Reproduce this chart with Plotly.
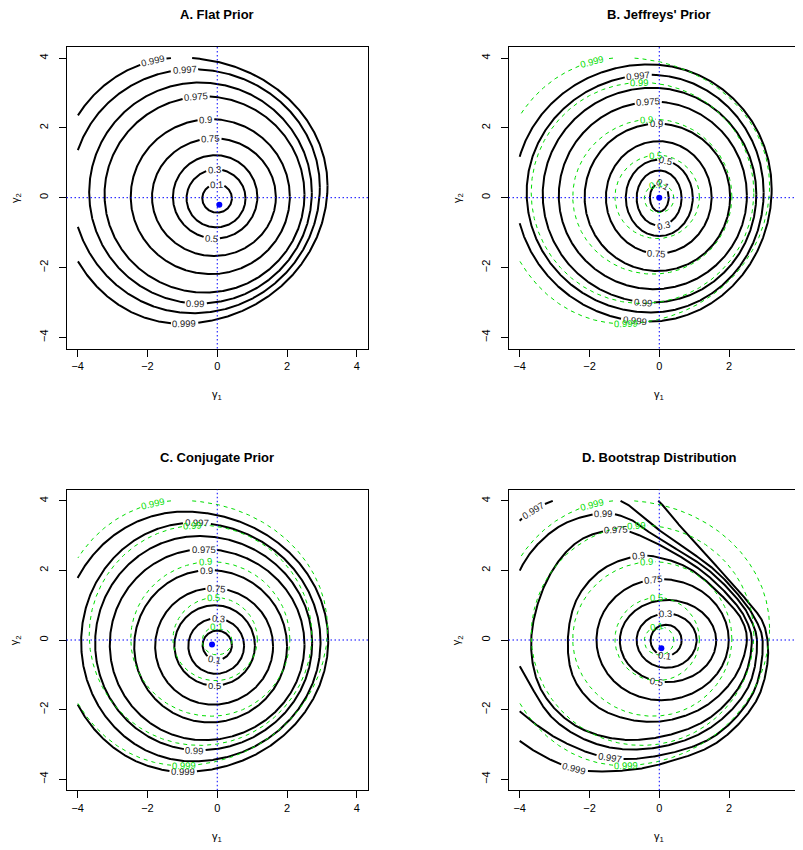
import numpy as np
import plotly.graph_objects as go

# ---------------- data ----------------
LEVELS = [0.1, 0.3, 0.5, 0.75, 0.9, 0.975, 0.99, 0.997, 0.999]
GREEN_LEVELS = [0.1, 0.5, 0.9, 0.99, 0.999]   # flat-prior contours overlaid in B, C, D
TICKS = [-4, -2, 0, 2, 4]
TITLES = ["A. Flat Prior", "B. Jeffreys' Prior", "C. Conjugate Prior", "D. Bootstrap Distribution"]

# Contours as centre (cx, cy) + extreme coordinates (left/right/bottom/top)
# Panel A - flat prior
A_CX = [0.00, -0.03, -0.05, -0.09, -0.18, -0.35, -0.50, -0.70, -1.05]
A_CY = [-0.02, -0.02, 0.02, 0.02, 0.03, 0.09, 0.15, 0.30, 0.35]
A_LEFT = [-0.43, -0.88, -1.27, -1.87, -2.48, -3.23, -3.67, -4.17, -4.57]
A_RIGHT = [0.42, 0.81, 1.15, 1.68, 2.08, 2.50, 2.71, 2.94, 3.16]
A_BOTTOM = [-0.43, -0.85, -1.17, -1.67, -2.19, -2.72, -3.03, -3.31, -3.61]
A_TOP = [0.39, 0.81, 1.22, 1.70, 2.25, 2.90, 3.30, 3.68, 4.01]
A_DOT = (0.06, -0.20)
A_LAB_LEVEL = [0.999, 0.997, 0.975, 0.9, 0.75, 0.3, 0.1, 0.5, 0.99, 0.999]
A_LAB_X = [-1.83, -0.93, -0.61, -0.33, -0.19, -0.09, -0.02, -0.16, -0.61, -0.93]
A_LAB_Y = [3.86, 3.65, 2.89, 2.25, 1.70, 0.81, 0.38, -1.15, -3.02, -3.60]

# Panel B - Jeffreys' prior
B_CX = [0.00, 0.00, 0.00, -0.02, -0.05, -0.15, -0.20, -0.25, -0.30]
B_CY = [0.00, -0.01, 0.00, 0.01, 0.02, 0.06, 0.10, 0.15, 0.25]
B_LEFT = [-0.27, -0.65, -0.96, -1.53, -2.14, -2.88, -3.34, -3.80, -4.13]
B_RIGHT = [0.27, 0.64, 0.96, 1.50, 2.03, 2.51, 2.78, 2.99, 3.22]
B_BOTTOM = [-0.40, -0.80, -1.10, -1.60, -2.10, -2.62, -3.00, -3.29, -3.55]
B_TOP = [0.40, 0.78, 1.09, 1.62, 2.12, 2.75, 3.15, 3.52, 3.82]
B_DOT = (0.00, 0.00)
B_LAB_LEVEL = [0.997, 0.975, 0.9, 0.5, 0.1, 0.3, 0.75, 0.99, 0.999]
B_LAB_X = [-0.60, -0.32, -0.08, 0.18, 0.10, 0.12, -0.08, -0.46, -0.70]
B_LAB_Y = [3.52, 2.76, 2.12, 1.10, 0.36, -0.81, -1.62, -3.00, -3.55]
B_GLAB_LEVEL = [0.999, 0.99, 0.9, 0.5, 0.1, 0.999]
B_GLAB_X = [-1.92, -0.56, -0.36, -0.10, -0.12, -0.94]
B_GLAB_Y = [3.88, 3.29, 2.27, 1.21, 0.43, -3.57]

# Panel C - conjugate prior
C_CX = [0.00, -0.04, -0.07, -0.12, -0.22, -0.38, -0.52, -0.70, -0.95]
C_CY = [-0.15, -0.17, -0.16, -0.18, -0.18, -0.13, -0.09, -0.06, -0.02]
C_LEFT = [-0.42, -0.83, -1.23, -1.78, -2.38, -3.08, -3.50, -3.90, -4.44]
C_RIGHT = [0.42, 0.77, 1.08, 1.60, 2.00, 2.50, 2.72, 2.96, 3.18]
C_BOTTOM = [-0.57, -0.97, -1.31, -1.86, -2.37, -2.88, -3.17, -3.49, -3.79]
C_TOP = [0.27, 0.62, 1.00, 1.49, 2.01, 2.61, 2.99, 3.37, 3.69]
C_DOT = (-0.15, -0.13)
C_LAB_LEVEL = [0.997, 0.975, 0.9, 0.75, 0.3, 0.1, 0.5, 0.99, 0.999]
C_LAB_X = [-0.59, -0.40, -0.31, -0.02, 0.03, -0.07, -0.07, -0.64, -0.98]
C_LAB_Y = [3.36, 2.60, 2.00, 1.48, 0.60, -0.55, -1.30, -3.16, -3.79]
C_GLAB_LEVEL = [0.999, 0.99, 0.9, 0.5, 0.1, 0.999]
C_GLAB_X = [-1.83, -0.69, -0.35, -0.10, -0.02, -0.93]
C_GLAB_Y = [3.88, 3.26, 2.27, 1.17, 0.38, -3.60]

# Panel D - bootstrap distribution
# inner contours (0.1, 0.3, 0.5, 0.75): centre + extremes
D_IN_CX = [0.19, 0.21, 0.22, 0.05]
D_IN_CY = [-0.01, 0.00, -0.02, 0.00]
D_IN_LEFT = [-0.25, -0.65, -1.13, -1.80]
D_IN_RIGHT = [0.64, 1.07, 1.63, 1.99]
D_IN_BOTTOM = [-0.46, -0.80, -1.21, -1.73]
D_IN_TOP = [0.44, 0.76, 1.15, 1.75]
# outer contours (0.9 ... 0.999): points (counter-clockwise)
D_X_0900 = [2.51, 2.38, 2.05, 0.95, 0.20, -0.55, -1.60, -2.35, -2.62, -2.45, -1.80, -0.80, 0.30, 1.40, 2.20]
D_Y_0900 = [0.00, 0.55, 1.00, 2.00, 2.32, 2.42, 2.05, 1.20, 0.00, -1.10, -1.90, -2.30, -2.30, -1.85, -1.00]
D_X_0975 = [2.65, 2.50, 2.22, 1.20, -0.55, -1.20, -2.30, -3.20, -3.67, -3.40, -2.50, -1.20, 0.20, 1.50, 2.40]
D_Y_0975 = [0.00, 0.55, 1.00, 2.00, 3.00, 3.17, 2.85, 1.75, 0.00, -1.40, -2.40, -2.85, -2.75, -2.20, -1.15]
D_X_0990 = [2.80, 2.64, 2.38, 1.42, -0.15, -0.80, -1.55, -2.80, -3.80, -4.30, -4.25, -3.85, -3.00, -1.60, 0.00, 1.50, 2.55]
D_Y_0990 = [0.00, 0.55, 1.00, 2.00, 3.00, 3.45, 3.64, 3.30, 2.35, 1.00, -0.20, -1.00, -2.30, -3.05, -3.08, -2.50, -1.35]
D_X_0997 = [2.96, 2.78, 2.50, 1.60, 0.20, -1.11, -2.10, -3.10, -4.00, -4.70, -5.00, -4.70, -4.00, -2.80, -1.42, 0.00, 1.60, 2.70]
D_Y_0997 = [0.00, 0.55, 1.00, 2.00, 3.00, 4.00, 4.15, 3.98, 3.43, 2.20, 0.50, -1.30, -2.05, -2.90, -3.39, -3.32, -2.75, -1.50]
D_X_0999 = [3.10, 2.95, 2.62, 1.75, 0.82, -0.03, -1.00, -2.60, -4.30, -5.30, -5.50, -5.00, -4.00, -2.43, -1.00, 0.10, 1.65, 2.75, 3.08]
D_Y_0999 = [0.00, 0.55, 1.00, 2.00, 3.00, 4.00, 4.70, 5.00, 4.40, 2.50, 0.00, -1.80, -2.90, -3.70, -3.75, -3.55, -2.95, -1.80, -0.80]
D_DOT = (0.06, -0.24)
D_LAB_LEVEL = [0.997, 0.99, 0.975, 0.9, 0.75, 0.3, 0.1, 0.5, 0.997, 0.999]
D_LAB_X = [-3.58, -1.59, -1.23, -0.58, -0.17, 0.18, 0.14, -0.08, -1.42, -2.43]
D_LAB_Y = [3.67, 3.59, 3.14, 2.40, 1.73, 0.74, -0.45, -1.21, -3.39, -3.70]
D_GLAB_LEVEL = [0.999, 0.99, 0.9, 0.5, 0.1, 0.999]
D_GLAB_X = [-1.92, -0.65, -0.36, -0.08, -0.08, -0.94]
D_GLAB_Y = [3.90, 3.26, 2.27, 1.17, 0.38, -3.60]

# ---------------- styling / layout ----------------
PAGE_W, PAGE_H = 803, 850
OFF = 8                      # default page margin around the figure div
W, H = PAGE_W - OFF, PAGE_H - OFF
FONT = "Liberation Sans, Arial, Helvetica, sans-serif"
PX = 34.9              # approx. pixels per data unit (used only for label gaps)
GRID_LIM = 4.0         # contours were computed on [-4, 4] x [-4, 4]
LAB_FS = 9.5
GREEN = "#00dd00"
DOTTED = "1.5px,2.5px"


def px_x(p):
    return (p - OFF) / W


def px_y(p):
    return 1 - (p - OFF) / H


XD_L = [px_x(66.5), px_x(368.0)]
XD_R = [px_x(508.5), 1.0]
XR_L = [-4.32, 4.32]
XR_R = [-4.32, (PAGE_W - 659.3) / PX]
YD_T = [px_y(348.5), px_y(46.9)]
YD_B = [px_y(790.3), px_y(489.7)]
YR = [-4.32, 4.32]


def quad_curve(cx, cy, left, right, bottom, top, n=300):
    t = np.linspace(0, np.pi / 2, n, endpoint=False)
    c, s = np.cos(t), np.sin(t)
    xs = [cx + (right - cx) * c, cx - (cx - left) * s, cx - (cx - left) * c, cx + (right - cx) * s]
    ys = [cy + (top - cy) * s, cy + (top - cy) * c, cy - (cy - bottom) * s, cy - (cy - bottom) * c]
    x = np.concatenate(xs + [[xs[0][0]]])
    y = np.concatenate(ys + [[ys[0][0]]])
    return x, y


def spline_closed(px, py, n_per=60, alpha=0.5):
    """Centripetal Catmull-Rom curve through the traced points (closed)."""
    P = np.column_stack([px, py]).astype(float)
    m = len(P)
    out = []
    for i in range(m):
        p0, p1, p2, p3 = P[i - 1], P[i], P[(i + 1) % m], P[(i + 2) % m]
        t0 = 0.0
        t1 = t0 + np.linalg.norm(p1 - p0) ** alpha
        t2 = t1 + np.linalg.norm(p2 - p1) ** alpha
        t3 = t2 + np.linalg.norm(p3 - p2) ** alpha
        t = np.linspace(t1, t2, n_per, endpoint=False)[:, None]
        a1 = (t1 - t) / (t1 - t0) * p0 + (t - t0) / (t1 - t0) * p1
        a2 = (t2 - t) / (t2 - t1) * p1 + (t - t1) / (t2 - t1) * p2
        a3 = (t3 - t) / (t3 - t2) * p2 + (t - t2) / (t3 - t2) * p3
        b1 = (t2 - t) / (t2 - t0) * a1 + (t - t0) / (t2 - t0) * a2
        b2 = (t3 - t) / (t3 - t1) * a2 + (t - t1) / (t3 - t1) * a3
        out.append((t2 - t) / (t2 - t1) * b1 + (t - t1) / (t2 - t1) * b2)
    C = np.vstack(out + [P[:1]])
    return C[:, 0], C[:, 1]


def label_width(text, fs):
    return sum(0.278 if ch == "." else 0.556 for ch in text) * fs


def panel_curves(cx, cy, left, right, bottom, top, levels):
    return {lev: quad_curve(cx[k], cy[k], left[k], right[k], bottom[k], top[k])
            for k, lev in enumerate(levels)}


def label_and_gap(curves, levels, lab_lev, lab_x, lab_y):
    keep = {lev: np.ones(len(curves[lev][0]), bool) for lev in levels}
    anns = []
    for lev, lx, ly in zip(lab_lev, lab_x, lab_y):
        x, y = curves[lev]
        vis = (np.abs(x) <= GRID_LIM) & (np.abs(y) <= GRID_LIM)
        d = np.hypot(x - lx, y - ly)
        d[~vis] = np.inf
        i = int(np.argmin(d))
        seg = np.hypot(np.diff(x), np.diff(y)) * PX
        s = np.concatenate([[0.0], np.cumsum(seg)])
        tot = s[-1]
        ds = np.abs(s - s[i])
        ds = np.minimum(ds, tot - ds)
        text = f"{lev:g}"
        half = label_width(text, LAB_FS) / 2 + 1.5
        keep[lev] &= ds > half
        m = len(x) - 1
        j0, j1 = (i - 4) % m, (i + 4) % m
        ang = np.degrees(np.arctan2(y[j1] - y[j0], x[j1] - x[j0]))
        if ang > 90:
            ang -= 180
        if ang <= -90:
            ang += 180
        anns.append((float(x[i]), float(y[i]), text, float(ang)))
    return keep, anns


def lines_trace(curves, levels, keep, xa, ya, color, width, dash):
    xx, yy = [], []
    for lev in levels:
        x, y = curves[lev]
        vis = (np.abs(x) <= GRID_LIM) & (np.abs(y) <= GRID_LIM) & keep[lev]
        xx.append(np.where(vis, x, np.nan)); yy.append(np.where(vis, y, np.nan))
        xx.append([np.nan]); yy.append([np.nan])
    return go.Scatter(x=np.concatenate(xx), y=np.concatenate(yy), mode="lines",
                      line=dict(color=color, width=width, dash=dash),
                      xaxis=xa, yaxis=ya, hoverinfo="skip", showlegend=False,
                      connectgaps=False)


curvesA = panel_curves(A_CX, A_CY, A_LEFT, A_RIGHT, A_BOTTOM, A_TOP, LEVELS)
curvesB = panel_curves(B_CX, B_CY, B_LEFT, B_RIGHT, B_BOTTOM, B_TOP, LEVELS)
curvesC = panel_curves(C_CX, C_CY, C_LEFT, C_RIGHT, C_BOTTOM, C_TOP, LEVELS)
curvesD = panel_curves(D_IN_CX, D_IN_CY, D_IN_LEFT, D_IN_RIGHT, D_IN_BOTTOM, D_IN_TOP, LEVELS[:4])
curvesD[0.9] = spline_closed(D_X_0900, D_Y_0900)
curvesD[0.975] = spline_closed(D_X_0975, D_Y_0975)
curvesD[0.99] = spline_closed(D_X_0990, D_Y_0990)
curvesD[0.997] = spline_closed(D_X_0997, D_Y_0997)
curvesD[0.999] = spline_closed(D_X_0999, D_Y_0999)

panels = [
    dict(curves=curvesA, lab=(A_LAB_LEVEL, A_LAB_X, A_LAB_Y), glab=None, dot=A_DOT,
         xa="x", ya="y", xd=XD_L, xr=XR_L, yd=YD_T, right=False, x0px=217.3, ytop=46.9, ybot=348.5),
    dict(curves=curvesB, lab=(B_LAB_LEVEL, B_LAB_X, B_LAB_Y), glab=(B_GLAB_LEVEL, B_GLAB_X, B_GLAB_Y),
         dot=B_DOT, xa="x2", ya="y2", xd=XD_R, xr=XR_R, yd=YD_T, right=True, x0px=659.3, ytop=46.9, ybot=348.5),
    dict(curves=curvesC, lab=(C_LAB_LEVEL, C_LAB_X, C_LAB_Y), glab=(C_GLAB_LEVEL, C_GLAB_X, C_GLAB_Y),
         dot=C_DOT, xa="x3", ya="y3", xd=XD_L, xr=XR_L, yd=YD_B, right=False, x0px=217.3, ytop=489.7, ybot=790.3),
    dict(curves=curvesD, lab=(D_LAB_LEVEL, D_LAB_X, D_LAB_Y), glab=(D_GLAB_LEVEL, D_GLAB_X, D_GLAB_Y),
         dot=D_DOT, xa="x4", ya="y4", xd=XD_R, xr=XR_R, yd=YD_B, right=True, x0px=659.3, ytop=489.7, ybot=790.3),
]

fig = go.Figure()
annotations = []
shapes = []
layout_axes = {}

for k, p in enumerate(panels):
    xa, ya = p["xa"], p["ya"]
    keep, anns = label_and_gap(p["curves"], LEVELS, *p["lab"])
    fig.add_trace(lines_trace(p["curves"], LEVELS, keep, xa, ya, "black", 2, "solid"))
    for (x, y, text, ang) in anns:
        annotations.append(dict(x=x, y=y, xref=xa, yref=ya, text=text, showarrow=False,
                                textangle=-ang, xanchor="center", yanchor="middle",
                                font=dict(family=FONT, size=LAB_FS, color="#222222")))
    if p["glab"] is not None:
        gkeep, ganns = label_and_gap(curvesA, GREEN_LEVELS, *p["glab"])
        fig.add_trace(lines_trace(curvesA, GREEN_LEVELS, gkeep, xa, ya, GREEN, 1, "4px,4px"))
        for (x, y, text, ang) in ganns:
            annotations.append(dict(x=x, y=y, xref=xa, yref=ya, text=text, showarrow=False,
                                    textangle=-ang, xanchor="center", yanchor="middle",
                                    font=dict(family=FONT, size=LAB_FS, color=GREEN)))
    fig.add_trace(go.Scatter(x=[p["dot"][0]], y=[p["dot"][1]], mode="markers",
                             marker=dict(color="blue", size=6), xaxis=xa, yaxis=ya,
                             hoverinfo="skip", showlegend=False))
    # reference lines at 0 (abline h=0, v=0)
    shapes.append(dict(type="line", xref=f"{xa} domain", x0=0, x1=1, yref=ya, y0=0, y1=0,
                       line=dict(color="blue", width=1, dash=DOTTED), layer="above"))
    shapes.append(dict(type="line", yref=f"{ya} domain", y0=0, y1=1, xref=xa, x0=0, x1=0,
                       line=dict(color="blue", width=1, dash=DOTTED), layer="above"))

    axname_x = "xaxis" if xa == "x" else "xaxis" + xa[1:]
    axname_y = "yaxis" if ya == "y" else "yaxis" + ya[1:]
    common = dict(tickvals=TICKS, ticks="outside", ticklen=7, tickwidth=1, tickcolor="black",
                  showline=True, linecolor="black", linewidth=1, showgrid=False, zeroline=False,
                  tickfont=dict(family=FONT, size=11, color="black"), fixedrange=True)
    layout_axes[axname_x] = dict(common, domain=p["xd"], range=p["xr"], anchor=ya, mirror=True)
    layout_axes[axname_y] = dict(common, domain=p["yd"], range=YR, anchor=xa,
                                 mirror=(not p["right"]), tickangle=-90, ticklabelstandoff=6)

    # titles and axis labels (page pixel positions)
    annotations.append(dict(x=px_x(p["x0px"]), y=px_y(p["ytop"] - 32), xref="paper", yref="paper",
                            text="<b>" + TITLES[k] + "</b>", showarrow=False,
                            xanchor="center", yanchor="middle", borderpad=0,
                            font=dict(family=FONT, size=13, color="black")))
    annotations.append(dict(x=px_x(p["x0px"]), y=px_y(p["ybot"] + 47), xref="paper", yref="paper",
                            text="γ<sub>1</sub>", showarrow=False, xanchor="center", yanchor="middle",
                            font=dict(family=FONT, size=11, color="black")))
    annotations.append(dict(x=px_x(p["x0px"] - 202), y=px_y((p["ytop"] + p["ybot"]) / 2),
                            xref="paper", yref="paper", text="γ<sub>2</sub>", showarrow=False,
                            textangle=-90, xanchor="center", yanchor="middle",
                            font=dict(family=FONT, size=11, color="black")))

fig.update_layout(width=W, height=H, margin=dict(l=0, r=0, t=0, b=0),
                  paper_bgcolor="white", plot_bgcolor="white", showlegend=False,
                  annotations=annotations, shapes=shapes, **layout_axes)

fig.write_html("out.html")
